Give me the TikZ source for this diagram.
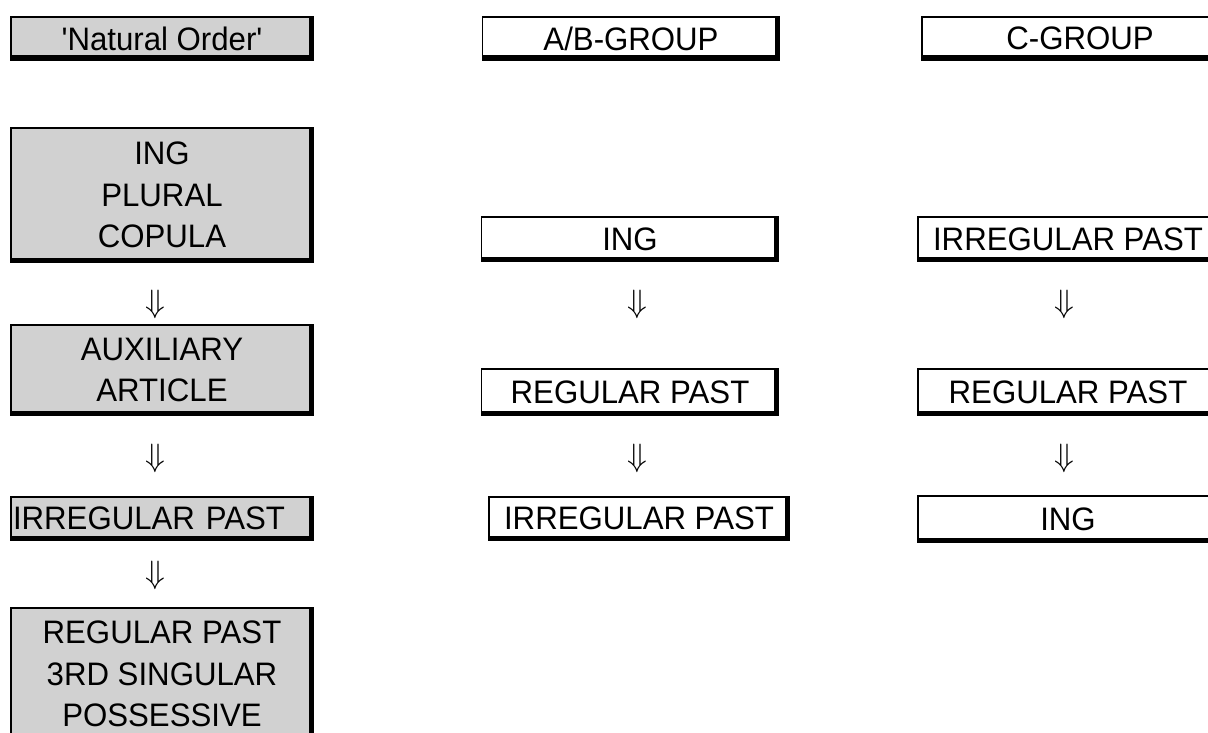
\documentclass[tikz,border=0pt]{standalone}
\usepackage{graphicx}
\usepackage{fontspec}
\newfontfamily\arial[FakeStretch=0.96]{Liberation Sans}
\begin{document}
\begin{tikzpicture}[x=1pt,y=-1pt,
  box/.style={draw, line width=1.4pt, inner sep=0pt, outer sep=0pt, align=center,
    font=\arial\fontsize{32.5}{41.5}\selectfont},
  greybox/.style={box, fill=black!18},
  wbox/.style={box, fill=white},
  shadowline/.style={line width=4.5pt, line cap=butt, line join=miter},
  arr/.style={inner sep=0pt, font=\fontsize{24.88}{30}\selectfont}]
\useasboundingbox (0,0) rectangle (1208,733);
\clip (0,0) rectangle (1208,733);
% left column
\node[greybox, minimum width=302pt, minimum height=43pt] (nat) at (162,38.5) {'Natural Order'};
\node[greybox, minimum width=302pt, minimum height=134pt] (ipc) at (162,195) {ING\\PLURAL\\COPULA};
\node[greybox, minimum width=302pt, minimum height=90pt] (aux) at (162,370) {AUXILIARY\\ARTICLE};
\node[greybox, minimum height=43pt, text width=298pt, inner xsep=2pt, align=left] (irr1) at (162,518.5) {IRREGULAR PAST};
\node[greybox, minimum width=302pt, minimum height=132pt] (rps) at (162,674) {REGULAR PAST\\3RD SINGULAR\\POSSESSIVE};
% middle column
\node[wbox, minimum width=297pt, minimum height=43pt] (abg) at (631,38.5) {A/B-GROUP};
\node[wbox, minimum width=297pt, minimum height=44pt] (ing2) at (630,239) {ING};
\node[wbox, minimum width=297pt, minimum height=46pt] (reg2) at (630,392) {REGULAR PAST};
\node[wbox, minimum width=300pt, minimum height=43pt] (irr2) at (639,518.5) {IRREGULAR PAST};
% right column
\node[wbox, minimum width=316pt, minimum height=43pt] (cgr) at (1080,38.5) {C-GROUP};
\node[wbox, minimum width=300pt, minimum height=44pt] (irr3) at (1068,239) {IRREGULAR PAST};
\node[wbox, minimum width=300pt, minimum height=46pt] (reg3) at (1068,392) {REGULAR PAST};
\node[wbox, minimum width=300pt, minimum height=46pt] (ing3) at (1068,519) {ING};
% shadow borders
\foreach \n in {nat,ipc,aux,irr1,rps,abg,ing2,reg2,irr2,cgr,irr3,reg3,ing3}
  \draw[shadowline] ([xshift=-2.25pt]\n.north east) -- ([xshift=-2.25pt,yshift=2.25pt]\n.south east) -- ([yshift=2.25pt]\n.south west);
% arrows
\node[arr] (a1) at (155,304) {\scalebox{1.3}{$\Downarrow$}};
\node[arr] (a2) at (155,458) {\scalebox{1.3}{$\Downarrow$}};
\node[arr] (a3) at (155,575) {\scalebox{1.3}{$\Downarrow$}};
\node[arr] (b1) at (637,304) {\scalebox{1.3}{$\Downarrow$}};
\node[arr] (b2) at (637,458) {\scalebox{1.3}{$\Downarrow$}};
\node[arr] (c1) at (1064,304) {\scalebox{1.3}{$\Downarrow$}};
\node[arr] (c2) at (1064,458) {\scalebox{1.3}{$\Downarrow$}};
\end{tikzpicture}
\end{document}
